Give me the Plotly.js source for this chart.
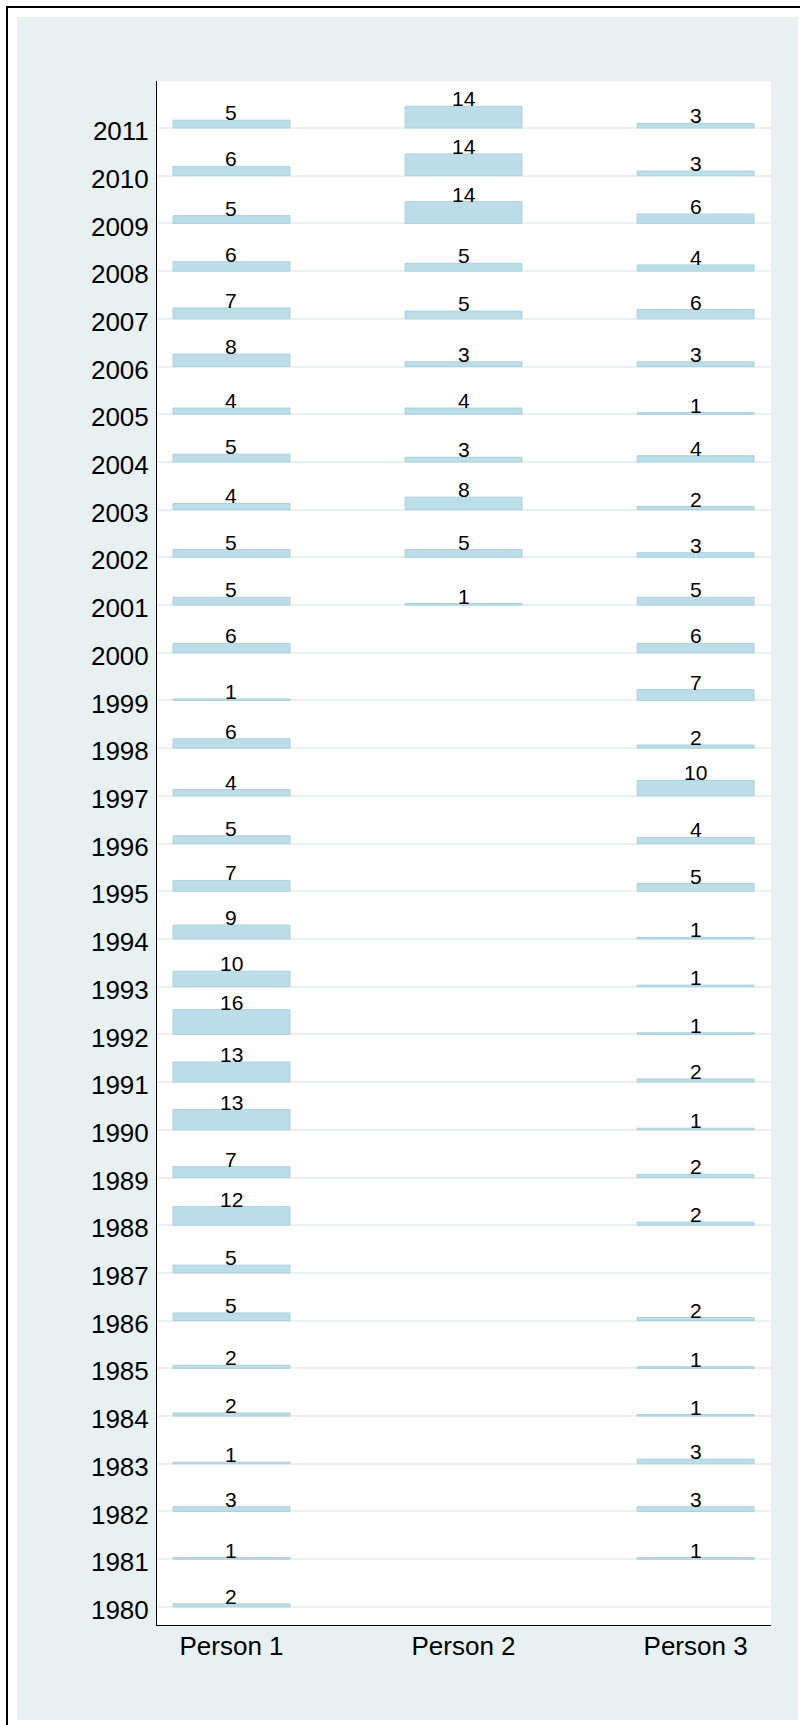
<!DOCTYPE html>
<html>
<head>
<meta charset="utf-8">
<script src="https://cdn.plot.ly/plotly-3.0.1.min.js"></script>
<style>
  html, body { margin: 0; padding: 0; background: #ffffff; width: 800px; height: 1725px; overflow: hidden; }
  #frame { position: absolute; left: 6px; top: 6px; width: 800px; height: 1725px;
           border-left: 2px solid #000; border-top: 2px solid #000; box-sizing: border-box; }
  #chart { position: absolute; left: 17px; top: 17px; width: 781px; height: 1703px; }
</style>
</head>
<body>
<div id="frame"></div>
<div id="chart"></div>
<script>
// ---- data ----
const years = [1980,1981,1982,1983,1984,1985,1986,1987,1988,1989,1990,1991,1992,1993,1994,1995,
               1996,1997,1998,1999,2000,2001,2002,2003,2004,2005,2006,2007,2008,2009,2010,2011];
const persons = ["Person 1", "Person 2", "Person 3"];
const person1 = [2,1,3,1,2,2,5,5,12,7,13,13,16,10,9,7,5,4,6,1,6,5,5,4,5,4,8,7,6,5,6,5];
const person2 = [null,null,null,null,null,null,null,null,null,null,null,null,null,null,null,null,
                 null,null,null,null,null,1,5,8,3,4,3,5,5,14,14,14];
const person3 = [null,1,3,3,1,1,2,null,2,2,1,2,1,1,1,5,4,10,2,7,6,5,3,2,4,1,3,6,4,6,3,3];
const series = [person1, person2, person3];

// ---- style ----
const HEIGHT_PER_UNIT = 0.0325;   // bar height (in year units) per count
const BAR_FILL = "#bddee8";
const BAR_LINE = "#a9d2df";
const FONT = "Liberation Sans, Arial, Helvetica, sans-serif";

const traces = [];
const annotations = [];
series.forEach((vals, i) => {
  const xs = [], bases = [], hs = [];
  vals.forEach((v, j) => {
    if (v === null) return;
    xs.push(i + 1);
    bases.push(years[j]);
    hs.push(v * HEIGHT_PER_UNIT);
    annotations.push({
      x: i + 1, y: years[j] + v * HEIGHT_PER_UNIT, xref: "x", yref: "y",
      text: String(v), showarrow: false, yanchor: "bottom", xanchor: "center",
      yshift: -6, font: { family: FONT, size: 21, color: "#000" }
    });
  });
  traces.push({
    type: "bar", x: xs, y: hs, base: bases, width: 0.504,
    marker: { color: BAR_FILL, line: { color: BAR_LINE, width: 1 } },
    hoverinfo: "skip", showlegend: false
  });
});

const layout = {
  width: 781, height: 1703,
  margin: { l: 140, r: 27, t: 64, b: 95, pad: 0 },
  paper_bgcolor: "#e8f0f2",
  plot_bgcolor: "#ffffff",
  barmode: "overlay",
  showlegend: false,
  font: { family: FONT, color: "#000" },
  xaxis: {
    range: [0.679, 3.325], tickvals: [1, 2, 3], ticktext: persons,
    showgrid: false, zeroline: false, showline: true, linecolor: "#000", linewidth: 1,
    ticks: "", ticklabelstandoff: -2, tickfont: { family: FONT, size: 26, color: "#000" },
    fixedrange: true
  },
  yaxis: {
    range: [1979.62, 2011.985], tick0: 1980, dtick: 1, tickmode: "linear",
    showgrid: true, gridcolor: "#e9f1f3", gridwidth: 2, zeroline: false,
    showline: true, linecolor: "#000", linewidth: 1,
    ticks: "", ticklabelstandoff: 2, ticklabelshift: 3,
    tickfont: { family: FONT, size: 26, color: "#000" },
    fixedrange: true
  },
  annotations: annotations
};

Plotly.newPlot("chart", traces, layout, { staticPlot: true, displayModeBar: false });
</script>
</body>
</html>
